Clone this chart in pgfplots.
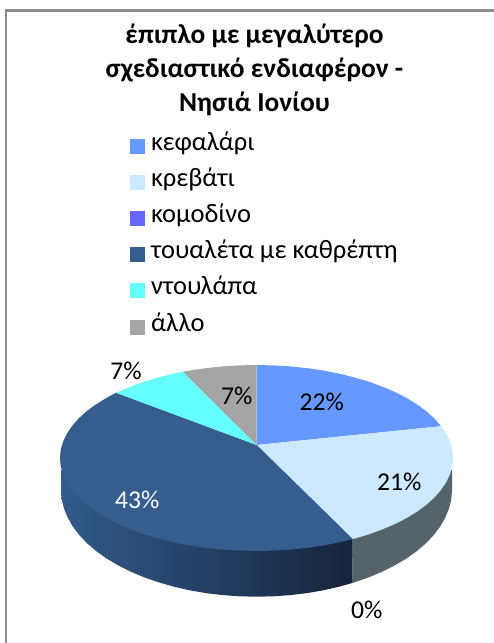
\documentclass[border=0pt]{standalone}
\usepackage{fontspec}
\setmainfont{Carlito}
\usepackage{pgfplots}
\pgfplotsset{compat=1.18}
\definecolor{c1}{HTML}{6699FF}
\definecolor{c2}{HTML}{CCE9FF}
\definecolor{c3}{HTML}{6666FF}
\definecolor{c4}{HTML}{355D8D}
\definecolor{c5}{HTML}{66FFFF}
\definecolor{c6}{HTML}{A5A5A5}
\definecolor{frame}{HTML}{8C8C8C}
\definecolor{sideL}{HTML}{325A8A}
\definecolor{sideR}{HTML}{16243B}
\definecolor{sideG}{HTML}{56636B}
\begin{document}
\begin{tikzpicture}[x=1pt,y=1pt]
\useasboundingbox (0,0) rectangle (494,643);
\begin{axis}[at={(0,0)},anchor=south west,width=494pt,height=643pt,scale only axis,
  xmin=0,xmax=494,ymin=0,ymax=643,y dir=reverse,hide axis,clip=false,
  legend image code/.code={\fill[draw=none,#1] (0pt,-7.5pt) rectangle (15pt,7.5pt);},
  legend style={at={(axis cs:130,136)},anchor=north west,draw=none,fill=none,inner sep=0pt,outer sep=0pt,
    row sep=16.2pt,font=\fontsize{26.5}{30}\selectfont,
    nodes={inner sep=0pt,outer sep=0pt,text height=14pt,text depth=6pt},
    column sep=6pt},
  legend cell align=left]
\addlegendimage{fill=c1}\addlegendentry{κεφαλάρι}
\addlegendimage{fill=c2}\addlegendentry{κρεβάτι}
\addlegendimage{fill=c3}\addlegendentry{κομοδίνο}
\addlegendimage{fill=c4}\addlegendentry{τουαλέτα με καθρέπτη}
\addlegendimage{fill=c5}\addlegendentry{ντουλάπα}
\addlegendimage{fill=c6}\addlegendentry{άλλο}
% frame
\addplot[forget plot,draw=frame,line width=2.4pt] coordinates {(6,643)(6,10.5)(494,10.5)};
% side walls
\addplot[forget plot,draw=none,fill=sideG] coordinates {(352.2,583)(354.3,582.4)(368.6,577.4)(382.2,571.7)(394.7,565.4)(406.3,558.6)(416.7,551.2)(425.8,543.4)(433.7,535.1)(440.2,526.5)(445.3,517.6)(449,508.5)(451.3,499.3)(452,490)(452,470)(352.7,470)(352.7,539)};
\addplot[forget plot,draw=none,left color=sideL,right color=sideR] coordinates {(352.2,583)(339.1,586.7)(323.4,590.3)(307.1,593.1)(290.4,595.1)(273.5,596.3)(256.5,596.7)(239.5,596.3)(222.6,595.1)(205.9,593.1)(189.6,590.3)(173.9,586.7)(158.8,582.4)(144.4,577.4)(130.8,571.7)(118.3,565.4)(106.7,558.6)(96.3,551.2)(87.2,543.4)(79.3,535.1)(72.8,526.5)(67.7,517.6)(64,508.5)(61.7,499.3)(61,490)(61,470)(352.7,470)(352.7,539)};
% top face: 22, 21, 0, 43, 7, 7 per cent
\addplot[forget plot,draw=none,fill=c1] coordinates {(256.7,445)(256.5,365)(273.6,365.4)(290.6,366.4)(307.4,368.2)(323.7,370.6)(339.5,373.7)(354.75,377.5)(369.2,381.8)(382.8,386.8)(395.4,392.2)(407,398.2)(417.5,404.7)(426.7,411.5)(434.6,418.7)(441.1,426.2)};
\addplot[forget plot,draw=none,fill=c2] coordinates {(256.7,445)(441.1,426.2)(446.3,433.9)(450,441.9)(452.3,449.9)(453,458)(452.3,466.1)(450,474.1)(446.3,482.1)(441.1,489.8)(434.6,497.3)(426.7,504.5)(417.5,511.3)(407,517.8)(395.4,523.8)(382.8,529.2)(369.2,534.2)(354.75,538.5)(352.7,539.1)};
\addplot[forget plot,draw=none,fill=c4] coordinates {(256.7,445)(352.7,539.1)(339.5,542.3)(323.7,545.4)(307.4,547.8)(290.6,549.6)(273.6,550.6)(256.5,551)(239.4,550.6)(222.4,549.6)(205.6,547.8)(189.3,545.4)(173.5,542.3)(158.25,538.5)(143.8,534.2)(130.2,529.2)(117.6,523.8)(106,517.8)(95.5,511.3)(86.3,504.5)(78.4,497.3)(71.9,489.8)(66.7,482.1)(63,474.1)(60.7,466.1)(60,458)(60.7,449.9)(63,441.9)(66.7,433.9)(71.9,426.2)(78.4,418.7)(86.3,411.5)(95.5,404.7)(106,398.2)(116,392.7)};
\addplot[forget plot,draw=none,fill=c5] coordinates {(256.7,445)(116,392.7)(117.6,392.2)(130.2,386.8)(143.8,381.8)(158.25,377.5)(173.5,373.7)(182.7,371.7)};
\addplot[forget plot,draw=none,fill=c6] coordinates {(256.7,445)(182.7,371.7)(189.3,370.6)(205.6,368.2)(222.4,366.4)(239.4,365.4)(256.5,365)};
% data labels
\node[font=\fontsize{25.6}{30}\selectfont] at (axis cs:321.7,401.7) {22\%};
\node[font=\fontsize{25.6}{30}\selectfont] at (axis cs:399.3,481.7) {21\%};
\node[font=\fontsize{25.6}{30}\selectfont] at (axis cs:366.7,610) {0\%};
\node[font=\fontsize{25.6}{30}\selectfont,text=white] at (axis cs:137.3,500) {43\%};
\node[font=\fontsize{25.6}{30}\selectfont] at (axis cs:126,370.7) {7\%};
\node[font=\fontsize{25.6}{30}\selectfont] at (axis cs:236.7,396) {7\%};
% title
\node[font=\fontsize{27.4}{34}\selectfont\bfseries,align=center] at (axis cs:254.5,70) {έπιπλο με μεγαλύτερο\\σχεδιαστικό ενδιαφέρον -\\Νησιά Ιονίου};
\end{axis}
\end{tikzpicture}
\end{document}
